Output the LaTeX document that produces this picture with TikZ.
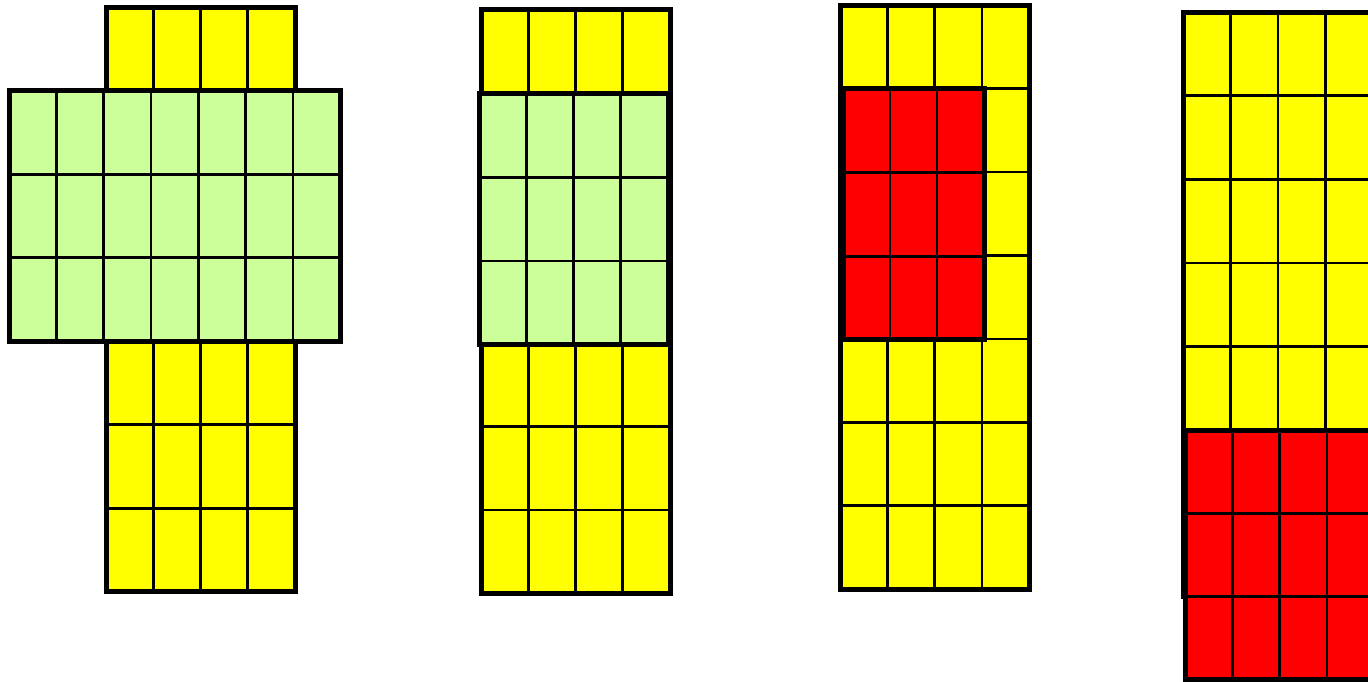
\documentclass[tikz,border=0pt]{standalone}
\usepackage{tikz}
\definecolor{cyel}{RGB}{255,255,0}
\definecolor{cgrn}{RGB}{204,255,153}
\definecolor{cred}{RGB}{255,0,0}
\tikzset{
  gridline/.style={line width=2.6pt, black},
  blockborder/.style={line width=5pt, black, line join=miter},
}
% #1 x, #2 y, #3 cols, #4 rows, #5 cell width, #6 cell height, #7 colour
\newcommand{\myblock}[7]{%
  \fill[#7] (#1,#2) rectangle ++({#3*#5},{#4*#6});
  \foreach \i in {1,...,#3}{\draw[gridline] ({#1+\i*#5},#2) -- ++(0,{#4*#6});}
  \foreach \j in {1,...,#4}{\draw[gridline] (#1,{#2+\j*#6}) -- ++({#3*#5},0);}
  \draw[blockborder] (#1,#2) rectangle ++({#3*#5},{#4*#6});
}
\begin{document}
\begin{tikzpicture}[x=1pt,y=-1pt]
\useasboundingbox (0,0) rectangle (1368,682);
\clip (0,0) rectangle (1368,682);
% group 1
\myblock{106}{7.5}{4}{7}{47.25}{83.45}{cyel}
\myblock{9}{91}{7}{3}{47.3}{83.35}{cgrn}
% group 2
\myblock{481}{10}{4}{7}{47.25}{83.35}{cyel}
\myblock{479}{94}{4}{3}{47.25}{83.4}{cgrn}
% group 3
\myblock{840}{5.3}{4}{7}{47.3}{83.4}{cyel}
\myblock{843}{89}{3}{3}{47}{83.6}{cred}
% group 4
\myblock{1183.3}{12.3}{4}{7}{47.3}{83.5}{cyel}
\myblock{1185}{430}{4}{3}{47.3}{83.3}{cred}
\end{tikzpicture}
\end{document}
